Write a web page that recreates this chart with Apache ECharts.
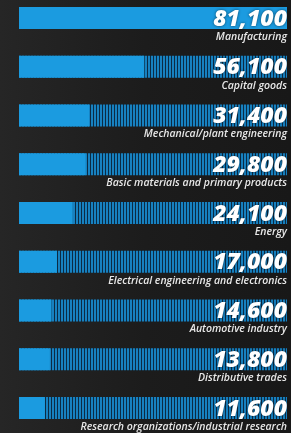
<!DOCTYPE html>
<html>
<head>
<meta charset="utf-8">
<script src="https://cdn.jsdelivr.net/npm/echarts@6/dist/echarts.min.js"></script>
<style>
  html, body { margin: 0; padding: 0; background: #1b1b1b; }
  #chart { width: 291px; height: 433px; }
</style>
</head>
<body>
<div id="chart"></div>
<script>
// R&D staff by sector
const categories = [
  'Manufacturing',
  'Capital goods',
  'Mechanical/plant engineering',
  'Basic materials and primary products',
  'Energy',
  'Electrical engineering and electronics',
  'Automotive industry',
  'Distributive trades',
  'Research organizations/industrial research'
];
const values = [81100, 56100, 31400, 29800, 24100, 17000, 14600, 13800, 11600];

// scale of the solid part; the first row is the total and fills the whole track
const AXIS_MAX = 120000;
const trackValues = categories.map(() => AXIS_MAX);
const solidValues = values.map((v, i) => (i === 0 ? AXIS_MAX : v));

// thin vertical stripes for the unfilled part of each track
function stripePattern() {
  const c = document.createElement('canvas');
  c.width = 3;
  c.height = 4;
  const ctx = c.getContext('2d');
  ctx.fillStyle = '#0b2b44';
  ctx.fillRect(0, 0, 3, 4);
  ctx.fillStyle = '#1781c0';
  ctx.fillRect(1, 0, 2, 4);
  return c;
}

const chart = echarts.init(document.getElementById('chart'), null, { renderer: 'canvas' });

const fmt = v => v.toLocaleString('en-US');

const option = {
  backgroundColor: {
    type: 'linear', x: 0, y: 0, x2: 1, y2: 0,
    colorStops: [
      { offset: 0, color: '#262626' },
      { offset: 0.5, color: '#1c1c1c' },
      { offset: 1, color: '#181818' }
    ]
  },
  animation: false,
  // bars sit in the upper half of each row, so the grid starts a bit above the canvas
  grid: { left: 19, right: 4, top: -6.4, bottom: 0.6, containLabel: false, outerBoundsMode: 'none' },
  xAxis: { type: 'value', min: 0, max: AXIS_MAX, show: false },
  yAxis: {
    type: 'category',
    data: categories,
    inverse: true,
    show: false
  },
  series: [
    {
      name: 'track',
      type: 'bar',
      data: trackValues,
      barWidth: 22,
      itemStyle: { color: { image: stripePattern(), repeat: 'repeat' } },
      z: 1
    },
    {
      name: 'staff',
      type: 'bar',
      data: solidValues,
      barWidth: 22,
      barGap: '-100%',
      itemStyle: { color: '#1b9be0' },
      z: 2
    },
    {
      // invisible full-length bar that only carries the labels on top
      name: 'labels',
      type: 'bar',
      data: trackValues,
      barWidth: 22,
      barGap: '-100%',
      itemStyle: { color: 'rgba(0,0,0,0)' },
      silent: true,
      z: 3,
      label: {
        show: true,
        position: ['100%', 0],
        align: 'right',
        verticalAlign: 'top',
        formatter: p => '{n|' + fmt(values[p.dataIndex]) + '}\n{c|' + categories[p.dataIndex] + '}',
        rich: {
          n: {
            fontFamily: 'Open Sans',
            fontStyle: 'italic',
            fontWeight: 800,
            fontSize: 23,
            lineHeight: 24,
            color: '#ffffff',
            align: 'right',
            textShadowColor: 'rgba(0,0,0,0.6)',
            textShadowBlur: 3
          },
          c: {
            fontFamily: 'Open Sans',
            fontStyle: 'italic',
            fontWeight: 600,
            fontSize: 10.5,
            lineHeight: 12,
            color: '#e8e8e8',
            align: 'right'
          }
        }
      }
    }
  ]
};

chart.setOption(option);
</script>
</body>
</html>
